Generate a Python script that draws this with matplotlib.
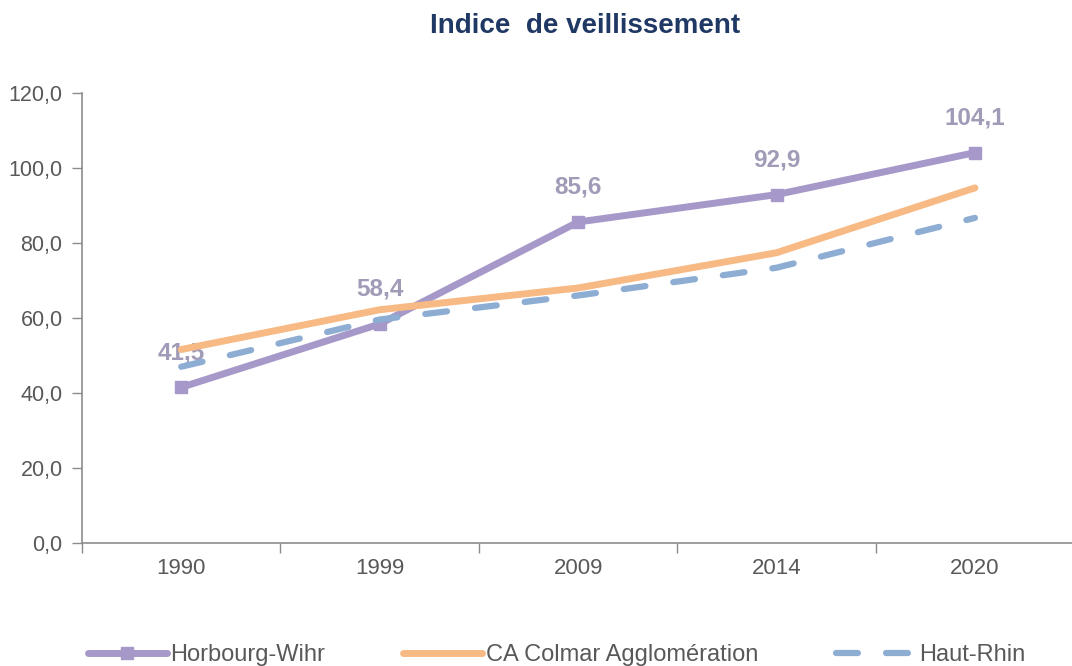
import matplotlib
matplotlib.use('Agg')
import matplotlib.pyplot as plt
import numpy as np

plt.rcParams['font.family'] = ['Liberation Sans', 'DejaVu Sans']

# data
years = ['1990', '1999', '2009', '2014', '2020']
horbourg = [41.5, 58.4, 85.6, 92.9, 104.1]
colmar = [51.6, 62.2, 68.0, 77.4, 94.7]
haut_rhin = [47.0, 59.6, 66.0, 73.4, 86.7]
yticks = [0, 20, 40, 60, 80, 100, 120]

c_purple = '#A698C8'
c_label = '#A29BB8'
c_orange = '#F8BA85'
c_blue = '#8DADD3'
c_axis = '#8C8C8C'
c_text = '#595959'

fig = plt.figure(figsize=(10.72, 6.66), dpi=100)
ax = fig.add_axes([82/1072, 1-543/666, 1-82/1072 + 0.002, (543-93)/666])

x = np.arange(len(years))
ax.plot(x, horbourg, color=c_purple, lw=5, marker='s', ms=9,
        solid_capstyle='round', label='Horbourg-Wihr', zorder=3)
ax.plot(x, colmar, color=c_orange, lw=5, solid_capstyle='round',
        label='CA Colmar Agglomération', zorder=4)
ax.plot(x, haut_rhin, color=c_blue, lw=4.5, dashes=(3.5, 4.5),
        dash_capstyle='round', label='Haut-Rhin', zorder=5)

for xi, v in zip(x, horbourg):
    ax.annotate(f'{v:.1f}'.replace('.', ','), (xi, v), xytext=(0, 25),
                textcoords='offset points', ha='center', va='center',
                fontsize=17.5, fontweight='bold', color=c_label, zorder=2)

ax.set_xlim(-0.5, 4.5)
ax.set_ylim(0, 120)
ax.set_yticks(yticks)
ax.set_yticklabels([f'{t:.1f}'.replace('.', ',') for t in yticks])
ax.set_xticks(x)
ax.set_xticklabels(years)
ax.set_xticks(np.arange(-0.5, 4.6, 1), minor=True)
ax.tick_params(axis='x', which='major', length=0, pad=11, labelsize=16, labelcolor=c_text)
ax.tick_params(axis='x', which='minor', length=7, width=1, color=c_axis, direction='out')
ax.tick_params(axis='y', length=7, width=1, color=c_axis, labelsize=15.5,
               labelcolor=c_text, pad=7)

for s in ['top', 'right']:
    ax.spines[s].set_visible(False)
for s in ['left', 'bottom']:
    ax.spines[s].set_color(c_axis)
    ax.spines[s].set_linewidth(1.2)

fig.text(585/1072, 1-26/666, 'Indice  de veillissement', ha='center', va='center',
         fontsize=20, fontweight='bold', color='#203864')

leg = fig.legend(loc='center left', bbox_to_anchor=(76/1072, 1-655/666), ncol=3,
                 frameon=False, fontsize=17, handlelength=3.35, handletextpad=0.15,
                 columnspacing=3.3, numpoints=1, borderpad=0)
for t in leg.get_texts():
    t.set_color(c_text)

fig.savefig('out.png', dpi=100)
